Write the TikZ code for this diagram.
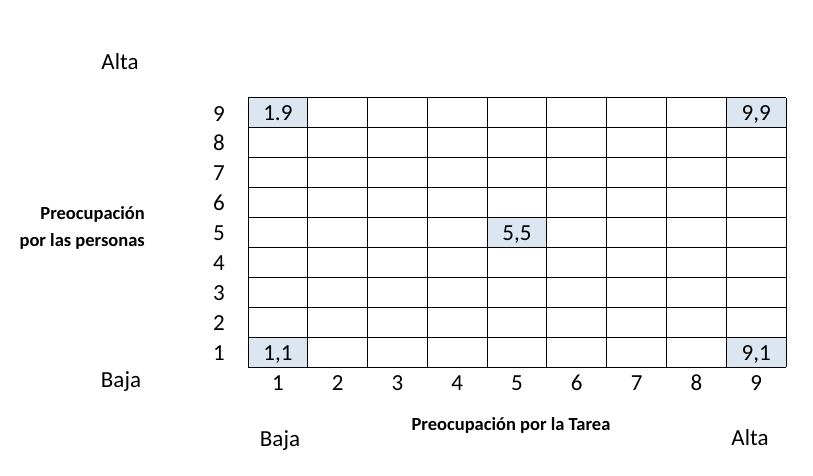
\documentclass[tikz,border=0pt]{standalone}
\usepackage{fontspec}
\setmainfont{Carlito}
\usepackage{xcolor}
\usetikzlibrary{positioning}
\definecolor{celdaazul}{RGB}{220,230,241}

\begin{document}
\begin{tikzpicture}[
    x=1pt, y=-1pt,
    every node/.style={font=\fontsize{23}{27}\selectfont, inner sep=0pt},
    celda/.style={fill=celdaazul, minimum width=59.8pt, minimum height=29.9pt, text height=16pt, text depth=0pt},
    texto/.style={anchor=base},
    eje/.style={font=\fontsize{18.5}{27}\selectfont\bfseries},
    linea/.style={draw=black, line width=1pt}
  ]
    \useasboundingbox (0,0) rectangle (813,476);

    % celdas marcadas
    \foreach \c/\r/\t in {1/9/1.9, 9/9/{9,9}, 5/5/{5,5}, 1/1/{1,1}, 9/1/{9,1}} {
      \pgfmathsetmacro\xc{248+(\c-0.5)*59.78}
      \pgfmathsetmacro\yc{367-(\r-0.5)*29.89}
      \node[celda] (c\c\r) at (\xc,\yc) {\t};
    }

    % rejilla 9x9
    \foreach \i in {0,...,9} {
      \pgfmathsetmacro\xl{248+\i*59.78}
      \pgfmathsetmacro\yl{98+\i*29.89}
      \draw[linea] (\xl,98) -- (\xl,367);
      \draw[linea] (248,\yl) -- (786,\yl);
    }

    % numeros de filas y columnas
    \foreach \i in {1,...,9} {
      \pgfmathsetmacro\xc{248+(\i-0.5)*59.78}
      \pgfmathsetmacro\yb{375.1-(\i-0.5)*29.89}
      \node[texto] (fila\i) at (219,\yb) {\i};
      \node[texto] (col\i) at (\xc,390) {\i};
    }

    % etiquetas de los ejes
    \node[texto] (alta1) at (120,70) {Alta};
    \node[texto] (baja1) at (121,387) {Baja};
    \node[texto] (baja2) at (280,446) {Baja};
    \node[texto] (alta2) at (750,445) {Alta};
    \node[eje, anchor=base east] (personas1) at (145,219.5) {Preocupación};
    \node[eje, anchor=base east] (personas2) at (145,246) {por las personas};
    \node[eje, texto] (tarea) at (511,430) {Preocupación por la Tarea};
  \end{tikzpicture}
\end{document}
